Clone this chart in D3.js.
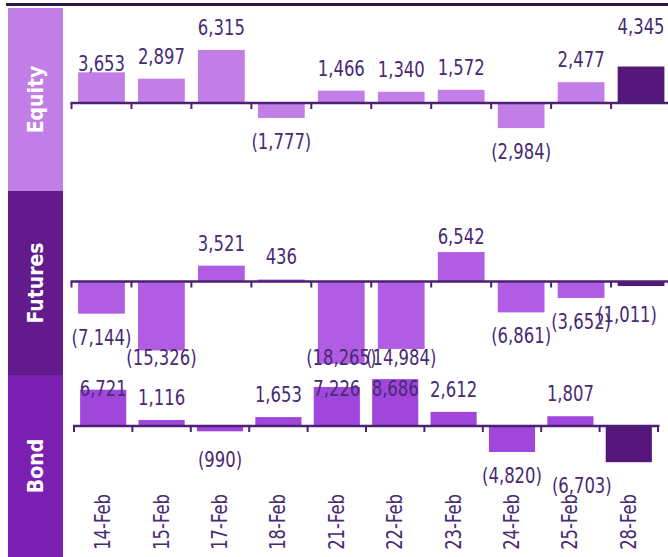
<!DOCTYPE html>
<html><head><meta charset="utf-8">
<script src="https://cdn.jsdelivr.net/npm/d3@7"></script>
<style>
html,body{margin:0;padding:0;background:#fff;}
svg{display:block;}
</style>
</head><body>
<svg id="c" width="668" height="557"></svg>
<script>
const dates = ["14-Feb","15-Feb","17-Feb","18-Feb","21-Feb","22-Feb","23-Feb","24-Feb","25-Feb","28-Feb"];
const panelNames = ["Equity","Futures","Bond"];
const equity  = [3653, 2897, 6315, -1777, 1466, 1340, 1572, -2984, 2477, 4345];
const futures = [-7144, -15326, 3521, 436, -18265, -14984, 6542, -6861, -3652, -1011];
const bond    = [6721, 1116, -990, 1653, 7226, 8686, 2612, -4820, 1807, -6703];

const svg = d3.select("#c");
const FONT = "'DejaVu Sans Condensed','DejaVu Sans',sans-serif";
const txtColor = "#472a74";
const axisColor = "#4b2174";
const darkBar = "#55177a";
const SX = 0.87;

// top rule
svg.append("rect").attr("x",6).attr("y",3).attr("width",662).attr("height",3).attr("fill","#2d1a4c");

const xTop = d3.scaleBand().domain(dates).range([71.5, 671]).paddingInner(0.22).paddingOuter(0.11);
const xBond = d3.scaleBand().domain(dates).range([74, 658]).paddingInner(0.21).paddingOuter(0.105);

const panels = [
  {name:panelNames[0], data:equity, x:xTop, pad:0.11, lineEnd:668, box:[8,191], boxColor:"#c07ee6", barColor:"#c07ee6",
   y:d3.scaleLinear().domain([-10000,10000]).range([187,19]), minC:27, maxC:480},
  {name:panelNames[1], data:futures, x:xTop, pad:0.11, lineEnd:668, box:[191,375], boxColor:"#631a8c", barColor:"#b05ce3",
   y:d3.scaleLinear().domain([-20000,20000]).range([371.5,191.5]), minC:237, maxC:358},
  {name:panelNames[2], data:bond, x:xBond, pad:0.105, lineEnd:659.5, box:[375,557], boxColor:"#7b1fb2", barColor:"#a046da",
   y:d3.scaleLinear().domain([-10000,10000]).range([480,372]), minC:389, maxC:540}
];

const fmt = v => v < 0 ? "(" + d3.format(",")(-v) + ")" : d3.format(",")(v);
const labelShift = {"Bond|28-Feb": -47, "Futures|28-Feb": -14};
const labelNudge = {"Equity|14-Feb": 14, "Equity|28-Feb": -17};

panels.forEach(p => {
  const x = p.x, step = x.step();
  // side box
  svg.append("rect").attr("x",8).attr("y",p.box[0]).attr("width",55).attr("height",p.box[1]-p.box[0]).attr("fill",p.boxColor);
  const cy = (p.box[0]+p.box[1])/2;
  svg.append("text").attr("transform",`translate(35.5,${cy}) rotate(-90)`)
    .attr("text-anchor","middle").attr("dominant-baseline","central")
    .attr("fill","#fff").attr("font-family","'DejaVu Sans Condensed','DejaVu Sans',sans-serif")
    .attr("font-weight","bold").attr("font-size",21).text(p.name);

  const y = p.y, y0 = y(0);
  const g = svg.append("g");
  g.selectAll("rect.bar").data(p.data).join("rect").attr("class","bar")
    .attr("x",(d,i)=>x(dates[i])).attr("width",x.bandwidth())
    .attr("y",d=>Math.min(y(d),y0)).attr("height",d=>Math.abs(y(d)-y0))
    .attr("fill",(d,i)=> dates[i]==="28-Feb" ? darkBar : p.barColor);

  // zero axis line + ticks
  const bounds = dates.map(d => x(d) - step*p.pad).concat([x(dates[dates.length-1]) + x.bandwidth() + step*p.pad]);
  g.append("line").attr("x1",bounds[0]-1).attr("x2",p.lineEnd).attr("y1",y0).attr("y2",y0)
    .attr("stroke",axisColor).attr("stroke-width",2.5);
  g.selectAll("line.tick").data(bounds).join("line").attr("class","tick")
    .attr("x1",d=>d).attr("x2",d=>d).attr("y1",y0).attr("y2",y0+6)
    .attr("stroke",axisColor).attr("stroke-width",2);

  // value labels
  g.selectAll("text.val").data(p.data).join("text").attr("class","val")
    .attr("transform",(d,i)=>{
      const key = p.name+"|"+dates[i];
      const lx = x(dates[i]) + x.bandwidth()/2 + (labelShift[key]||0);
      let c = d >= 0 ? y(d) - 22 : Math.max(y(d) + 24, y0 + 34);
      c = Math.max(p.minC, Math.min(p.maxC, c)) + (labelNudge[key]||0);
      return `translate(${lx},${c}) scale(${SX},1)`;
    })
    .attr("text-anchor","middle").attr("dominant-baseline","central")
    .attr("font-family",FONT).attr("font-size",21).attr("fill",txtColor)
    .text(d=>fmt(d));
});

// category labels
svg.selectAll("text.cat").data(dates).join("text").attr("class","cat")
  .attr("transform",d=>`translate(${xBond(d)+xBond.bandwidth()/2},494) rotate(-90) scale(${SX},1)`)
  .attr("text-anchor","end").attr("dominant-baseline","central")
  .attr("font-family",FONT).attr("font-size",21).attr("fill",txtColor)
  .text(d=>d);
</script>
</body></html>
